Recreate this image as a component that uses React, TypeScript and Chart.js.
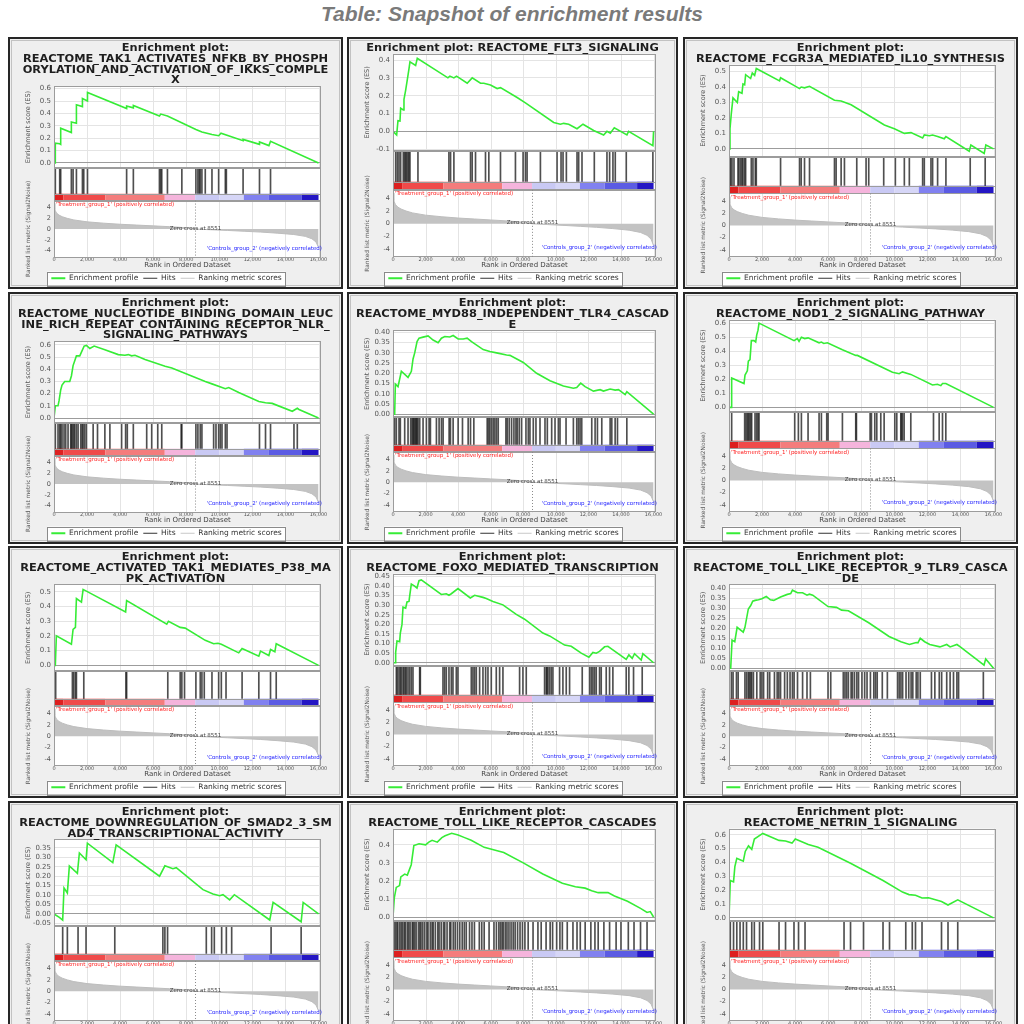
import React, { useEffect, useRef } from 'react';
import { Chart, registerables } from 'chart.js';

Chart.register(...registerables);
Chart.defaults.font.family = '"DejaVu Sans", sans-serif';

type Pt = [number, number];

// ---------- shared text ----------
const pageTitle = 'Table: Snapshot of enrichment results';
const legendLabels = ['Enrichment profile', 'Hits', 'Ranking metric scores'];
const xTitle = 'Rank in Ordered Dataset';
const esTitle = 'Enrichment score (ES)';
const rankTitle = 'Ranked list metric (Signal2Noise)';
const treatmentLabel = "'Treatment_group_1' (positively correlated)";
const controlLabel = "'Controls_group_2' (negatively correlated)";
const zeroCross = 8551;
const zeroCrossLabel = 'Zero cross at 8551';

// ---------- shared axes / ranked list ----------
const xTicks = [0, 2000, 4000, 6000, 8000, 10000, 12000, 14000, 16000];
const rankTicks = [-4, -2, 0, 2, 4];
const rankedMetric: Pt[] = [
  [0, 4.8], [50, 3.6], [150, 3.0], [300, 2.6], [500, 2.3], [800, 2.0], [1200, 1.7],
  [2000, 1.35], [3000, 1.1], [4000, 0.9], [5000, 0.75], [6000, 0.6], [7000, 0.45],
  [8000, 0.25], [8551, 0], [9500, -0.12], [10500, -0.25], [11500, -0.4], [12500, -0.55],
  [13500, -0.75], [14500, -1.0], [15200, -1.35], [15600, -1.8], [15850, -2.4], [16000, -3.4],
];
const colorBarBreaks = [0, 560, 3100, 6700, 8540, 10000, 11480, 13000, 14990, 16000];
const colorBarColors = ['#dd1f1f', '#f04a4a', '#f47c7c', '#f5b4dc', '#c9c9f4', '#d6d6f7', '#8181f0', '#5b5be3', '#2416c4'];

// ---------- panels ----------
const panelTitles: string[][] = [
  ['Enrichment plot:', 'REACTOME_TAK1_ACTIVATES_NFKB_BY_PHOSPH', 'ORYLATION_AND_ACTIVATION_OF_IKKS_COMPLE', 'X'],
  ['Enrichment plot: REACTOME_FLT3_SIGNALING'],
  ['Enrichment plot:', 'REACTOME_FCGR3A_MEDIATED_IL10_SYNTHESIS'],
  ['Enrichment plot:', 'REACTOME_NUCLEOTIDE_BINDING_DOMAIN_LEUC', 'INE_RICH_REPEAT_CONTAINING_RECEPTOR_NLR_', 'SIGNALING_PATHWAYS'],
  ['Enrichment plot:', 'REACTOME_MYD88_INDEPENDENT_TLR4_CASCAD', 'E'],
  ['Enrichment plot:', 'REACTOME_NOD1_2_SIGNALING_PATHWAY'],
  ['Enrichment plot:', 'REACTOME_ACTIVATED_TAK1_MEDIATES_P38_MA', 'PK_ACTIVATION'],
  ['Enrichment plot:', 'REACTOME_FOXO_MEDIATED_TRANSCRIPTION'],
  ['Enrichment plot:', 'REACTOME_TOLL_LIKE_RECEPTOR_9_TLR9_CASCA', 'DE'],
  ['Enrichment plot:', 'REACTOME_DOWNREGULATION_OF_SMAD2_3_SM', 'AD4_TRANSCRIPTIONAL_ACTIVITY'],
  ['Enrichment plot:', 'REACTOME_TOLL_LIKE_RECEPTOR_CASCADES'],
  ['Enrichment plot:', 'REACTOME_NETRIN_1_SIGNALING'],
];

const esAxes = [
  { min: -0.04, max: 0.62, ticks: [0, 0.1, 0.2, 0.3, 0.4, 0.5, 0.6], dec: 1 },
  { min: -0.11, max: 0.435, ticks: [-0.1, 0, 0.1, 0.2, 0.3, 0.4], dec: 1 },
  { min: -0.05, max: 0.545, ticks: [0, 0.1, 0.2, 0.3, 0.4, 0.5], dec: 1 },
  { min: -0.04, max: 0.63, ticks: [0, 0.1, 0.2, 0.3, 0.4, 0.5, 0.6], dec: 1 },
  { min: -0.015, max: 0.41, ticks: [0, 0.05, 0.1, 0.15, 0.2, 0.25, 0.3, 0.35, 0.4], dec: 2 },
  { min: -0.03, max: 0.625, ticks: [0, 0.1, 0.2, 0.3, 0.4, 0.5, 0.6], dec: 1 },
  { min: -0.04, max: 0.55, ticks: [0, 0.1, 0.2, 0.3, 0.4, 0.5], dec: 1 },
  { min: -0.015, max: 0.465, ticks: [0, 0.05, 0.1, 0.15, 0.2, 0.25, 0.3, 0.35, 0.4, 0.45], dec: 2 },
  { min: -0.015, max: 0.42, ticks: [0, 0.05, 0.1, 0.15, 0.2, 0.25, 0.3, 0.35, 0.4], dec: 2 },
  { min: -0.065, max: 0.395, ticks: [-0.05, 0, 0.05, 0.1, 0.15, 0.2, 0.25, 0.3, 0.35], dec: 2 },
  { min: -0.02, max: 0.49, ticks: [0, 0.1, 0.2, 0.3, 0.4], dec: 1 },
  { min: -0.02, max: 0.645, ticks: [0, 0.1, 0.2, 0.3, 0.4, 0.5, 0.6], dec: 1 },
];

const es1: Pt[] = [[0,0],[80,0],[80,0.16],[345,0.155],[405,0.15],[405,0.28],[1050,0.245],[1050,0.33],[1356,0.32],[1356,0.47],[1720,0.455],[1720,0.52],[2025,0.5],[2025,0.57],[4393,0.44],[4393,0.46],[4800,0.445],[4800,0.465],[6377,0.38],[6457,0.395],[6862,0.38],[8583,0.27],[8947,0.25],[9555,0.23],[9960,0.22],[10100,0.24],[11437,0.18],[11437,0.19],[12429,0.15],[12429,0.17],[13000,0.14],[13097,0.175],[16000,0]];
const es2: Pt[] = [[0,0],[225,-0.02],[306,0.06],[429,0.058],[470,0.13],[633,0.12],[674,0.18],[776,0.23],[879,0.29],[981,0.35],[1042,0.39],[1389,0.37],[1492,0.41],[3371,0.3],[3494,0.31],[3739,0.3],[3903,0.31],[4557,0.27],[4863,0.3],[5374,0.27],[5578,0.27],[5987,0.26],[6395,0.24],[6600,0.245],[7622,0.19],[8132,0.16],[9869,0.05],[10278,0.04],[10482,0.045],[10789,0.04],[11300,0.015],[11667,0.04],[12321,0.005],[12934,-0.02],[13138,0],[13343,-0.01],[13588,0.02],[14365,-0.02],[14467,0],[15958,-0.08],[16000,0]];
const es3: Pt[] = [[0,0],[60,0.13],[141,0.23],[241,0.33],[503,0.3],[584,0.37],[785,0.36],[845,0.42],[946,0.415],[1006,0.48],[1308,0.455],[1409,0.49],[1550,0.475],[1650,0.52],[3059,0.44],[3119,0.46],[4267,0.39],[4367,0.4],[4568,0.395],[4870,0.405],[6380,0.315],[6782,0.31],[7386,0.285],[9398,0.155],[10002,0.13],[10606,0.1],[11008,0.105],[11713,0.07],[11813,0.09],[12115,0.085],[12316,0.09],[12618,0.08],[13020,0.065],[13121,0.08],[14530,-0.015],[14631,0.025],[15436,-0.03],[15536,0.025],[16000,0]];
const es4: Pt[] = [[0,0],[81,0.1],[243,0.1],[304,0.14],[405,0.23],[486,0.27],[648,0.3],[951,0.3],[1053,0.345],[1154,0.43],[1255,0.47],[1356,0.51],[1559,0.51],[1660,0.54],[1822,0.59],[1964,0.595],[2166,0.57],[2429,0.59],[3077,0.56],[3887,0.52],[4291,0.515],[4494,0.52],[4696,0.51],[4899,0.515],[5506,0.48],[6721,0.425],[7126,0.41],[9150,0.3],[9555,0.28],[10364,0.24],[10567,0.25],[11174,0.21],[12389,0.135],[12794,0.125],[13198,0.12],[14413,0.055],[14717,0.08],[14818,0.07],[16000,0]];
const es5: Pt[] = [[0,0],[103,0],[144,0.147],[308,0.135],[513,0.21],[923,0.18],[1128,0.21],[1231,0.27],[1333,0.3],[1477,0.355],[1600,0.372],[1846,0.377],[2154,0.383],[2462,0.363],[2769,0.35],[2974,0.372],[3179,0.38],[3487,0.378],[3692,0.385],[4000,0.368],[4308,0.368],[4554,0.372],[4821,0.355],[5538,0.316],[5949,0.307],[6359,0.3],[6974,0.29],[7179,0.288],[8000,0.253],[8821,0.2],[9641,0.164],[10462,0.138],[11077,0.127],[11282,0.13],[11528,0.152],[11795,0.135],[12308,0.113],[12718,0.12],[12923,0.113],[13333,0.123],[13641,0.118],[13846,0.12],[14256,0.096],[14359,0.11],[16000,0]];
const es6: Pt[] = [[0,0],[141,0],[161,0.21],[908,0.17],[969,0.23],[1110,0.26],[1170,0.33],[1271,0.34],[1352,0.475],[1513,0.475],[1614,0.465],[1675,0.515],[1755,0.55],[1816,0.6],[3935,0.475],[4136,0.49],[4237,0.47],[4379,0.5],[4580,0.49],[4782,0.495],[5448,0.46],[5589,0.465],[5731,0.455],[5952,0.46],[6860,0.41],[7667,0.37],[7768,0.37],[9887,0.25],[10291,0.24],[10492,0.253],[10997,0.235],[12308,0.16],[12611,0.165],[12813,0.155],[12914,0.17],[13115,0.17],[16000,0]];
const es7: Pt[] = [[0,0],[81,0],[142,0.2],[1053,0.143],[1154,0.245],[1296,0.258],[1356,0.454],[1660,0.43],[1761,0.516],[4332,0.362],[4393,0.44],[6822,0.28],[6923,0.3],[7632,0.258],[7935,0.253],[9150,0.17],[9656,0.147],[9919,0.15],[10121,0.143],[11174,0.085],[11377,0.115],[12389,0.062],[12490,0.097],[12996,0.067],[13097,0.108],[13360,0.092],[13441,0.147],[16000,0]];
const es8: Pt[] = [[0,0],[143,0],[164,0.054],[245,0.113],[409,0.11],[450,0.155],[552,0.2],[614,0.29],[777,0.285],[859,0.317],[982,0.32],[1023,0.347],[1125,0.41],[1330,0.4],[1473,0.39],[1596,0.428],[1739,0.432],[2966,0.356],[3273,0.36],[3437,0.352],[3580,0.36],[3990,0.387],[4746,0.338],[5012,0.352],[5524,0.341],[5728,0.335],[6137,0.32],[6751,0.302],[7570,0.252],[8081,0.227],[9206,0.155],[9615,0.14],[10536,0.092],[10945,0.086],[11559,0.05],[12029,0.029],[12275,0.054],[12480,0.05],[12684,0.059],[12991,0.083],[13196,0.086],[14321,0.018],[14484,0.041],[14689,0.023],[14832,0.047],[15241,0.014],[15344,0.047],[16000,0]];
const es9: Pt[] = [[0,0],[103,0],[185,0.141],[349,0.133],[492,0.205],[862,0.181],[964,0.205],[1169,0.297],[1313,0.314],[1436,0.336],[1579,0.34],[1785,0.343],[1990,0.348],[2256,0.36],[2503,0.343],[2708,0.34],[3118,0.357],[3528,0.37],[3733,0.374],[3836,0.391],[4144,0.378],[4451,0.378],[4718,0.366],[4862,0.371],[5067,0.366],[5990,0.309],[6503,0.305],[6810,0.291],[7221,0.288],[8451,0.228],[9682,0.159],[10400,0.133],[10913,0.119],[11323,0.129],[11426,0.127],[11569,0.15],[11836,0.133],[12144,0.119],[12759,0.107],[13169,0.119],[13374,0.107],[13785,0.119],[13990,0.107],[15426,0.016],[15528,0.047],[16000,0]];
const es10: Pt[] = [[0,0],[323,-0.018],[525,-0.032],[606,0.138],[808,0.111],[929,0.254],[1414,0.215],[1535,0.323],[1939,0.287],[2020,0.375],[3556,0.272],[3758,0.366],[6384,0.2],[6707,0.255],[7192,0.24],[7394,0.245],[9010,0.129],[9616,0.106],[10020,0.097],[10222,0.102],[10626,0.075],[10909,0.102],[13051,-0.032],[13253,0.061],[14949,-0.041],[15071,0.061],[16000,0]];
const es11: Pt[] = [[0,0],[80,0.106],[200,0.164],[400,0.174],[480,0.222],[720,0.238],[880,0.232],[1120,0.29],[1280,0.396],[1600,0.406],[2000,0.4],[2200,0.415],[2400,0.425],[2720,0.415],[3000,0.44],[3200,0.45],[3600,0.464],[4000,0.454],[4400,0.44],[4800,0.425],[5600,0.386],[6400,0.367],[6800,0.357],[8000,0.3],[9200,0.238],[10400,0.187],[11200,0.168],[11800,0.16],[12200,0.145],[12600,0.135],[13200,0.135],[13600,0.116],[14400,0.087],[15200,0.048],[15600,0.025],[15800,0.03],[16000,0]];
const es12: Pt[] = [[0,0],[79,0.27],[275,0.26],[354,0.37],[472,0.43],[668,0.42],[865,0.41],[983,0.48],[1179,0.52],[1376,0.495],[1533,0.57],[2044,0.61],[3027,0.56],[3420,0.555],[3813,0.54],[4009,0.57],[4796,0.53],[5385,0.51],[7351,0.395],[9316,0.27],[10495,0.186],[10888,0.168],[11281,0.163],[11675,0.143],[12068,0.145],[12854,0.118],[13247,0.093],[13836,0.13],[16000,0]];

const hits1 = [80,345,405,1050,1155,1356,1720,1800,2025,4393,4800,6377,6457,6518,6862,7733,8583,8704,8785,8846,8947,9150,9555,9960,10364,10425,11437,12429,13097];
const hits2 = [163,266,368,470,633,715,776,838,919,981,1042,1532,3433,3535,3739,4761,4863,5067,5680,5885,6600,7519,7989,8132,8234,9052,10074,10319,10441,10646,11300,11402,11606,12362,13139,13302,13506,13649,14324,15958];
const hits3 = [40,101,181,302,543,604,704,785,845,946,1006,1348,1449,1590,1650,3119,4267,4367,4568,4870,6380,6480,6782,6983,7728,8291,8452,9358,10062,10606,10908,11713,11813,12216,12316,12618,13121,14590,15496];
const hits4 = [81,243,344,405,486,607,709,850,1012,1053,1113,1194,1255,1356,1457,1619,1700,1761,1862,1964,2368,2632,3077,3381,4089,4332,4433,4798,5607,5911,6275,6518,7692,7733,8583,8704,8846,8947,9656,9798,9960,10061,10162,10364,10466,12429,12794,13097,14514,14717];
const hits5 = [103,205,369,451,718,923,1087,1169,1231,1272,1333,1395,1436,1477,1538,1641,1846,2051,2215,2297,2667,2831,2974,3077,3446,3528,3692,4000,4267,4615,4759,4964,5785,5867,5949,6051,6154,6256,6359,6462,6933,7015,7138,7282,7426,7549,7631,7754,7897,8164,8308,8410,8615,8779,9026,9333,9477,9744,9949,10154,10256,10626,11077,11282,11385,11487,11590,12205,12410,12554,12821,13333,13436,13641,13785,14359];
const hits6 = [161,948,1029,1110,1170,1231,1312,1372,1574,1675,1755,1816,3975,4197,4379,4782,5448,5589,5912,5993,6860,7667,7708,8535,8616,8818,8939,9181,9383,10028,10149,10391,10432,10492,10593,10997,12369,12712,12914,13115];
const hits7 = [101,1113,1194,1296,1356,1802,4352,4393,6883,7632,7733,7895,8583,8846,8947,9089,9555,9960,10121,10405,11377,12389,13097,13441];
const hits8 = [205,266,368,450,511,614,675,757,818,921,1023,1125,1227,1637,1678,3069,3171,3273,3437,3580,3682,3887,3990,4808,4910,5012,5115,5319,5524,5687,5831,6035,6342,6547,6751,7774,7979,8183,9309,9411,9452,9513,9615,9718,9820,10229,10434,10638,10843,11620,12070,12173,12275,12377,12480,12684,12786,13093,13298,13502,14321,14484,14771,15303];
const hits9 = [144,246,451,554,964,1067,1169,1231,1313,1374,1477,1682,1887,1990,2092,2338,2462,2749,2913,3015,3118,3364,3528,3692,3836,3938,4144,4451,4718,4923,5990,6154,6913,7015,7118,7221,7385,7467,7590,7733,7836,8041,8205,8349,8554,8759,8862,8964,9272,9579,10195,10297,10400,10503,10708,10872,11015,11118,11323,11426,11569,12246,12451,12718,12862,13169,13374,13579,13785,13887,15385];
const hits10 = [525,808,1455,1939,3677,6586,6707,6869,9212,9535,9697,10141,10424,10747,13131,14949];
const hits11 = [60,150,240,300,420,510,600,700,760,880,960,1050,1180,1240,1330,1420,1560,1650,1720,1830,1950,2080,2150,2290,2400,2470,2600,2750,2830,2960,3100,3180,3320,3480,3550,3700,3820,3960,4100,4250,4380,4500,4700,4850,5000,5300,5450,5600,5900,6200,6350,6500,6600,6700,6780,6900,7000,7120,7250,7380,7500,7650,7800,7950,8100,8300,8600,8900,9100,9400,9650,9800,10050,10250,10400,10700,11050,11300,11500,11800,12150,12400,12600,12950,13300,13700,14000,14450,14800,15200,15600];
const hits12 = [79,275,472,668,865,1061,1376,1533,1848,2044,3027,3420,3931,4206,4599,6958,7351,8137,9316,9709,10692,11085,11281,11675,12854,13247,13836];

const esCurves: Pt[][] = [es1, es2, es3, es4, es5, es6, es7, es8, es9, es10, es11, es12];
const hitSets: number[][] = [hits1, hits2, hits3, hits4, hits5, hits6, hits7, hits8, hits9, hits10, hits11, hits12];

// ---------- layout constants ----------
const colLefts = [8, 347, 683];
const colWidths = [335, 331, 335];
const rowTops = [37, 292, 546, 801];
const PANEL_H = 252;
const AXIS_W = 42;
const HIT_BASE = 0.21;
const CONTROL_LABEL_Y = -3.7;
const GREEN = '#36ec36';
const PANEL_BG = '#efefef';
const TITLE_SIZE = 10;
const TITLE_LH = 1.08;
const TITLE_PAD = 4;
const TITLE_STRETCH = 1.14;

function rotatedText(ctx: any, text: string, x: number, y: number) {
  ctx.save();
  ctx.translate(x, y);
  ctx.rotate(-Math.PI / 2);
  ctx.fillText(text, 0, 0);
  ctx.restore();
}

const gseaPlugin = {
  id: 'gsea',
  beforeDraw(chart: any) {
    const { ctx, chartArea: ca, scales } = chart;
    ctx.save();
    ctx.fillStyle = PANEL_BG;
    ctx.fillRect(0, 0, chart.width, chart.height);
    ctx.strokeStyle = '#c2c2c2';
    ctx.lineWidth = 1;
    ctx.strokeRect(1.5, 1.5, chart.width - 3, chart.height - 3);
    ['y', 'yh', 'yr'].forEach((id) => {
      const s = scales[id];
      ctx.fillStyle = '#ffffff';
      ctx.fillRect(ca.left, s.top, ca.right - ca.left, s.bottom - s.top);
    });
    ctx.strokeStyle = '#e4e4e4';
    scales.x.ticks.forEach((t: any) => {
      const px = Math.round(scales.x.getPixelForValue(t.value)) + 0.5;
      ['y', 'yr'].forEach((id) => {
        const s = scales[id];
        ctx.beginPath();
        ctx.moveTo(px, s.top);
        ctx.lineTo(px, s.bottom);
        ctx.stroke();
      });
    });
    // legend frame
    const lg = chart.legend;
    if (lg && lg.legendHitBoxes && lg.legendHitBoxes.length) {
      const hb = lg.legendHitBoxes;
      const l = Math.min(...hb.map((h: any) => h.left)) - 4;
      const r = Math.max(...hb.map((h: any) => h.left + h.width)) + 4;
      const t = Math.min(...hb.map((h: any) => h.top)) - 3;
      const b = Math.max(...hb.map((h: any) => h.top + h.height)) + 3;
      ctx.fillStyle = '#ffffff';
      ctx.fillRect(l, t, r - l, b - t);
      ctx.strokeStyle = '#8a8a8a';
      ctx.strokeRect(Math.round(l) + 0.5, Math.round(t) + 0.5, Math.round(r - l), Math.round(b - t));
    }
    ctx.restore();
  },
  afterDatasetsDraw(chart: any) {
    const { ctx, chartArea: ca, scales } = chart;
    const { x, y, yh, yr } = scales;
    ctx.save();
    // colour bar
    const cbTop = yh.getPixelForValue(HIT_BASE);
    const cbBot = yh.getPixelForValue(0);
    for (let i = 0; i < colorBarColors.length; i++) {
      const x0 = x.getPixelForValue(colorBarBreaks[i]);
      const x1 = x.getPixelForValue(colorBarBreaks[i + 1]);
      ctx.fillStyle = colorBarColors[i];
      ctx.fillRect(x0, cbTop, x1 - x0, cbBot - cbTop);
    }
    ctx.strokeStyle = '#9c9c9c';
    ctx.lineWidth = 1;
    ctx.strokeRect(Math.round(ca.left) + 0.5, Math.round(cbTop) + 0.5, Math.round(ca.right - ca.left) - 1, Math.round(cbBot - cbTop) - 1);
    [y, yh, yr].forEach((s: any) => {
      ctx.strokeRect(Math.round(ca.left) + 0.5, Math.round(s.top) + 0.5, Math.round(ca.right - ca.left) - 1, Math.round(s.bottom - s.top) - 1);
    });
    // zero cross marker
    const zx = Math.round(x.getPixelForValue(zeroCross)) + 0.5;
    ctx.setLineDash([1, 2]);
    ctx.strokeStyle = '#8a8a8a';
    ctx.beginPath();
    ctx.moveTo(zx, yr.top);
    ctx.lineTo(zx, yr.bottom);
    ctx.stroke();
    ctx.setLineDash([]);
    ctx.font = '5.5px "DejaVu Sans"';
    ctx.textBaseline = 'middle';
    ctx.textAlign = 'center';
    ctx.fillStyle = '#444444';
    ctx.fillText(zeroCrossLabel, zx, yr.getPixelForValue(0) - 1);
    ctx.textAlign = 'left';
    ctx.fillStyle = '#ff1e1e';
    ctx.fillText(treatmentLabel, ca.left + 2, yr.top + 4);
    ctx.textAlign = 'right';
    ctx.fillStyle = '#2323ff';
    ctx.fillText(controlLabel, ca.right + 1, yr.getPixelForValue(CONTROL_LABEL_Y));
    // axis titles
    ctx.fillStyle = '#555555';
    ctx.textAlign = 'center';
    ctx.font = '6.5px "DejaVu Sans"';
    rotatedText(ctx, esTitle, ca.left - 26, (y.top + y.bottom) / 2);
    ctx.font = '5.8px "DejaVu Sans"';
    rotatedText(ctx, rankTitle, ca.left - 26, (yr.top + yr.bottom) / 2);
    ctx.restore();
  },
  afterDraw(chart: any) {
    // panel title, slightly stretched like the original GSEA image
    const { ctx } = chart;
    const lines: string[] = chart.config.options.plugins.title.text;
    const top = chart.titleBlock ? chart.titleBlock.top : 0;
    const lh = TITLE_SIZE * TITLE_LH;
    ctx.save();
    ctx.font = `bold ${TITLE_SIZE}px "DejaVu Sans"`;
    ctx.fillStyle = '#1e1e1e';
    ctx.textAlign = 'center';
    ctx.textBaseline = 'middle';
    lines.forEach((ln, k) => {
      ctx.save();
      ctx.translate(chart.width / 2, top + TITLE_PAD + lh * (k + 0.5));
      ctx.scale(TITLE_STRETCH, 1);
      ctx.fillText(ln, 0, 0);
      ctx.restore();
    });
    ctx.restore();
  },
};

const fixWidth = (s: any) => { s.width = AXIS_W; };

function buildConfig(i: number): any {
  const ax = esAxes[i];
  return {
    type: 'line',
    data: {
      datasets: [
        {
          type: 'line', label: legendLabels[0], yAxisID: 'y',
          data: esCurves[i].map(([rx, v]) => ({ x: rx, y: v })),
          borderColor: GREEN, borderWidth: 1.6, pointRadius: 0, tension: 0, fill: false,
        },
        {
          type: 'bar', label: legendLabels[1], yAxisID: 'yh',
          data: hitSets[i].map((rx) => ({ x: rx, y: [HIT_BASE, 1] })),
          backgroundColor: 'rgba(30,30,30,0.78)', borderWidth: 0, barThickness: 1, grouped: false,
        },
        {
          type: 'line', label: legendLabels[2], yAxisID: 'yr',
          data: rankedMetric.map(([rx, v]) => ({ x: rx, y: v })),
          borderColor: '#bdbdbd', backgroundColor: '#c3c3c3', borderWidth: 1, pointRadius: 0, tension: 0, fill: 'origin',
        },
      ],
    },
    options: {
      responsive: false,
      animation: false,
      events: [],
      layout: { padding: { left: 2, right: 20, top: 0, bottom: -5 } },
      plugins: {
        tooltip: { enabled: false },
        title: {
          display: true, text: panelTitles[i], color: 'rgba(0,0,0,0)',
          font: { size: TITLE_SIZE, weight: 'bold', lineHeight: TITLE_LH },
          padding: { top: TITLE_PAD, bottom: 0 },
        },
        legend: {
          display: true, position: 'bottom',
          labels: {
            font: { size: 7.5 }, color: '#333333', usePointStyle: true, pointStyleWidth: 14, boxHeight: 5, padding: 5,
            generateLabels: () => [
              { text: legendLabels[0], strokeStyle: GREEN, fillStyle: GREEN, lineWidth: 2, pointStyle: 'line', fontColor: '#333' },
              { text: legendLabels[1], strokeStyle: '#333333', fillStyle: '#333333', lineWidth: 1, pointStyle: 'line', fontColor: '#333' },
              { text: legendLabels[2], strokeStyle: '#c8c8c8', fillStyle: '#c8c8c8', lineWidth: 1, pointStyle: 'line', fontColor: '#333' },
            ],
          },
        },
      },
      scales: {
        x: {
          type: 'linear', position: 'bottom', min: 0, max: 16150, offset: false,
          afterBuildTicks: (s: any) => { s.ticks = xTicks.map((v) => ({ value: v })); },
          ticks: { font: { size: 5 }, color: '#555555', padding: 0, maxRotation: 0, autoSkip: false,
            callback: (v: any) => Number(v).toLocaleString('en-US') },
          grid: { display: false, drawTicks: false },
          border: { display: false },
          title: { display: true, text: xTitle, color: '#444444', font: { size: 7 }, padding: { top: -2, bottom: 0 } },
        },
        y: {
          type: 'linear', position: 'left', stack: 'gsea', stackWeight: 2.5, weight: 3,
          min: ax.min, max: ax.max,
          afterBuildTicks: (s: any) => { s.ticks = ax.ticks.map((v) => ({ value: v })); },
          afterFit: fixWidth,
          ticks: { font: { size: 7 }, color: '#555555', padding: 3, autoSkip: false, callback: (v: any) => Number(v).toFixed(ax.dec) },
          grid: { color: (c: any) => (c.tick && Math.abs(c.tick.value) < 1e-9 ? '#9c9c9c' : '#e4e4e4'), drawTicks: false },
          border: { display: false },
        },
        yh: {
          type: 'linear', position: 'left', stack: 'gsea', stackWeight: 1, weight: 2,
          min: 0, max: 1,
          afterFit: fixWidth,
          ticks: { display: false },
          grid: { display: false, drawTicks: false },
          border: { display: false },
        },
        yr: {
          type: 'linear', position: 'left', stack: 'gsea', stackWeight: 1.73, weight: 1,
          min: -5.2, max: 5.3,
          afterBuildTicks: (s: any) => { s.ticks = rankTicks.map((v) => ({ value: v })); },
          afterFit: fixWidth,
          ticks: { font: { size: 6.5 }, color: '#555555', padding: 3, autoSkip: false },
          grid: { display: false, drawTicks: false },
          border: { display: false },
        },
      },
    },
    plugins: [gseaPlugin],
  };
}

function GseaPanel({ index, left, top, width, height }: { index: number; left: number; top: number; width: number; height: number }) {
  const ref = useRef<HTMLCanvasElement | null>(null);
  useEffect(() => {
    if (!ref.current) return;
    const chart = new Chart(ref.current, buildConfig(index));
    return () => chart.destroy();
  }, [index]);
  return (
    <div style={{ position: 'absolute', left, top, width, height, boxSizing: 'border-box', border: '2px solid #262626', background: PANEL_BG }}>
      <canvas ref={ref} width={width - 4} height={height - 4} style={{ display: 'block', width: width - 4, height: height - 4 }} />
    </div>
  );
}

export default function App() {
  const panels: any[] = [];
  for (let r = 0; r < 4; r++) {
    for (let c = 0; c < 3; c++) {
      const idx = r * 3 + c;
      panels.push(
        <GseaPanel key={idx} index={idx} left={colLefts[c]} top={rowTops[r]} width={colWidths[c]} height={PANEL_H} />
      );
    }
  }
  return (
    <div style={{ position: 'absolute', left: 0, top: 0, width: 1024, height: 1024, overflow: 'hidden', background: '#ffffff' }}>
      <div style={{ position: 'absolute', left: 0, top: 2, width: 1024, textAlign: 'center', fontFamily: '"Liberation Sans", Arial, sans-serif',
        fontStyle: 'italic', fontWeight: 'bold', fontSize: 21, lineHeight: '24px', color: '#7a7a7a' }}>
        {pageTitle}
      </div>
      {panels}
    </div>
  );
}
